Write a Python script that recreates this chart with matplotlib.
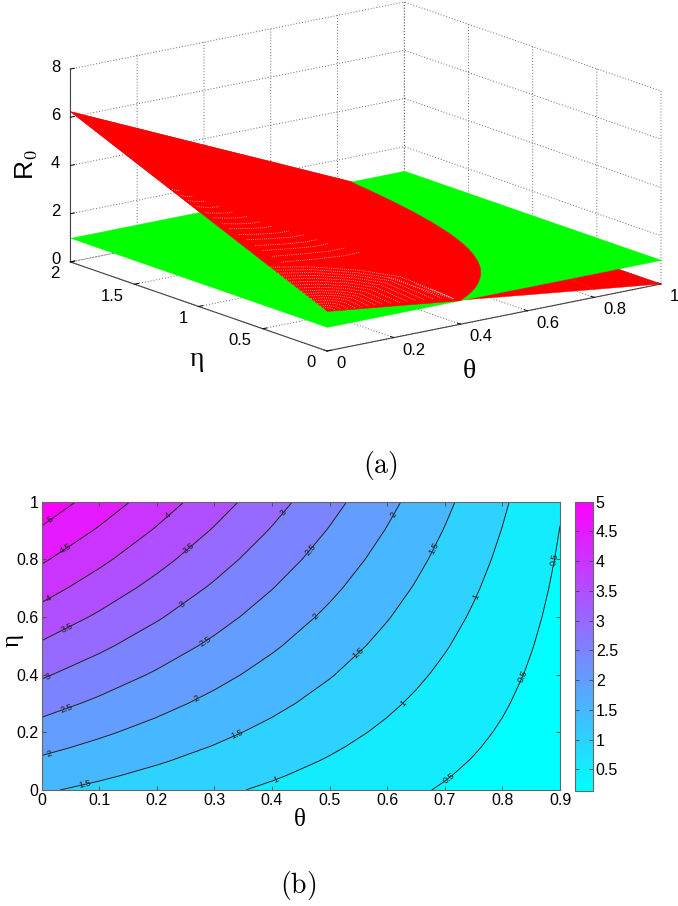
import numpy as np
import matplotlib
matplotlib.use('Agg')
import matplotlib.pyplot as plt
from mpl_toolkits.mplot3d import proj3d
from mpl_toolkits.mplot3d.art3d import Poly3DCollection

plt.rcParams['font.family'] = ['Liberation Sans', 'DejaVu Sans']
plt.rcParams['mathtext.fontset'] = 'cm'

W, H = 678, 906

# panel (a): red surface read at the corners and along the edges
theta_a = [0.0, 0.2, 0.4, 0.6, 0.8, 1.0]
eta_a = [0.0, 0.5, 1.0, 1.5, 2.0]
r0_a = [
    [1.66, 1.33, 1.00, 0.66, 0.33, 0.0],
    [2.80, 2.24, 1.68, 1.12, 0.56, 0.0],
    [3.95, 3.16, 2.37, 1.58, 0.79, 0.0],
    [5.09, 4.07, 3.05, 2.04, 1.02, 0.0],
    [6.24, 4.99, 3.74, 2.50, 1.25, 0.0],
]
plane_level = 1.0
# where the red surface crosses the green plane
cross_theta = [0.398, 0.4365, 0.471, 0.501, 0.528, 0.574, 0.612, 0.6435, 0.670, 0.6935,
               0.7136, 0.731, 0.747, 0.773, 0.7945, 0.812, 0.827, 0.84]
cross_eta = [0.0, 0.05, 0.1, 0.15, 0.2, 0.3, 0.4, 0.5, 0.6, 0.7,
             0.8, 0.9, 1.0, 1.2, 1.4, 1.6, 1.8, 2.0]

# pale dotted streaks in the red surface
streak_upper_start = [1.21, 1.15, 1.10, 1.04, 0.98, 0.93, 0.87, 0.82, 0.76, 0.71, 0.65, 0.60, 0.54, 0.48]
streak_upper_end = [0.03, 0.05, 0.07, 0.09, 0.11, 0.14, 0.16, 0.18, 0.21, 0.24, 0.26, 0.28, 0.31, 0.335]
streak_lower_start = [0.44, 0.41, 0.38, 0.35, 0.32, 0.29, 0.26, 0.23, 0.20, 0.175, 0.15, 0.125, 0.10, 0.075, 0.05, 0.03]
streak_lower_theta = [0.0, 0.12, 0.25, 0.34, 0.385]
streak_lower_frac = [1.0, 1.0, 0.9, 0.7, 0.1]
fan_rays = [((0.30, 0.30), (0.385, 0.02)), ((0.35, 0.22), (0.388, 0.02)), ((0.37, 0.15), (0.39, 0.02))]

# panel (b): contour values
theta_b = [0.0, 0.1, 0.2, 0.3, 0.4, 0.5, 0.6, 0.65, 0.7, 0.75, 0.8, 0.85, 0.9]
eta_b = [0.0, 0.05, 0.1, 0.15, 0.2, 0.25, 0.3, 0.4, 0.5, 0.6, 0.7, 0.8, 0.9, 1.0]
r0_b = [
    [1.550, 1.395, 1.240, 1.085, 0.930, 0.775, 0.620, 0.543, 0.465, 0.388, 0.310, 0.233, 0.155],
    [1.740, 1.565, 1.390, 1.217, 1.043, 0.869, 0.695, 0.608, 0.522, 0.435, 0.348, 0.261, 0.174],
    [1.927, 1.734, 1.542, 1.349, 1.156, 0.964, 0.771, 0.674, 0.578, 0.482, 0.385, 0.289, 0.193],
    [2.116, 1.904, 1.692, 1.481, 1.269, 1.058, 0.846, 0.740, 0.635, 0.529, 0.423, 0.317, 0.212],
    [2.304, 2.074, 1.843, 1.613, 1.382, 1.152, 0.922, 0.806, 0.691, 0.576, 0.461, 0.346, 0.230],
    [2.493, 2.243, 1.994, 1.745, 1.496, 1.246, 0.997, 0.872, 0.748, 0.623, 0.499, 0.374, 0.249],
    [2.681, 2.413, 2.145, 1.877, 1.609, 1.341, 1.072, 0.938, 0.804, 0.670, 0.536, 0.402, 0.268],
    [3.058, 2.752, 2.446, 2.141, 1.835, 1.529, 1.223, 1.070, 0.917, 0.765, 0.612, 0.459, 0.306],
    [3.435, 3.092, 2.748, 2.405, 2.061, 1.718, 1.374, 1.202, 1.031, 0.859, 0.687, 0.515, 0.344],
    [3.812, 3.431, 3.050, 2.668, 2.287, 1.906, 1.525, 1.334, 1.144, 0.953, 0.762, 0.572, 0.381],
    [4.189, 3.770, 3.351, 2.932, 2.513, 2.095, 1.676, 1.466, 1.257, 1.047, 0.838, 0.628, 0.419],
    [4.566, 4.109, 3.653, 3.196, 2.740, 2.283, 1.826, 1.598, 1.370, 1.142, 0.913, 0.685, 0.457],
    [4.943, 4.449, 3.954, 3.460, 2.966, 2.472, 1.977, 1.730, 1.483, 1.236, 0.989, 0.741, 0.494],
    [5.320, 4.788, 4.256, 3.724, 3.192, 2.660, 2.128, 1.862, 1.596, 1.330, 1.064, 0.798, 0.532],
]
levels_b = [0.5, 1.0, 1.5, 2.0, 2.5, 3.0, 3.5, 4.0, 4.5, 5.0]
cb_min, cb_max = 0.135, 5.0
label_spots = [
    (0.016, 0.934), (0.043, 0.835), (0.013, 0.662), (0.221, 0.948),
    (0.045, 0.557), (0.259, 0.832), (0.012, 0.393), (0.245, 0.639),
    (0.422, 0.96), (0.045, 0.277), (0.286, 0.511), (0.469, 0.829),
    (0.013, 0.124), (0.27, 0.314), (0.478, 0.598), (0.613, 0.954),
    (0.075, 0.017), (0.34, 0.193), (0.55, 0.474), (0.683, 0.835),
    (0.407, 0.038), (0.628, 0.30), (0.755, 0.668),
    (0.71, 0.035), (0.836, 0.393), (0.893, 0.798),
]
x_ticks_b = [0.0, 0.1, 0.2, 0.3, 0.4, 0.5, 0.6, 0.7, 0.8, 0.9]
x_labels_b = ['0', '0.1', '0.2', '0.3', '0.4', '0.5', '0.6', '0.7', '0.8', '0.9']
y_ticks_b = [0, 0.2, 0.4, 0.6, 0.8, 1.0]
y_labels_b = ['0', '0.2', '0.4', '0.6', '0.8', '1']
cb_ticks = [0.5, 1, 1.5, 2, 2.5, 3, 3.5, 4, 4.5, 5]
cb_labels = ['0.5', '1', '1.5', '2', '2.5', '3', '3.5', '4', '4.5', '5']


def px_axes(fig, left, top, right, bottom, **kw):
    return fig.add_axes([left / W, 1 - bottom / H, (right - left) / W, (bottom - top) / H], **kw)


def px_text(fig, x, y, s, **kw):
    return fig.text(x / W, 1 - y / H, s, **kw)


def surface_z(t, e):
    col = [np.interp(e, eta_a, [row[i] for row in r0_a]) for i in range(len(theta_a))]
    return np.interp(t, theta_a, col)


fig = plt.figure(figsize=(W / 100, H / 100), dpi=100)

# ---- (a) ----
aspect = (419.6, 424, 200)
ax = fig.add_axes([0.0, 0.5, 1.0, 0.5], projection='3d', proj_type='ortho', computed_zorder=False)
ax.set_facecolor('none')
ax.patch.set_visible(False)
ax.view_init(elev=15.3, azim=-127.25)
ax.set_box_aspect(aspect, zoom=1.0)
ax.set_xlim(0, 1)
ax.set_ylim(0, 2)
ax.set_zlim(0, 8)


def to_px(a, x, y, z):
    px, py, _ = proj3d.proj_transform(x, y, z, a.get_proj())
    q = a.transData.transform((px, py))
    return q[0], H - q[1]


# fit zoom and position so that the box corners land where they are in the picture
fig.canvas.draw()
zoom = 334.0 / (to_px(ax, 1, 0, 0)[0] - to_px(ax, 0, 0, 0)[0])
ax.set_box_aspect(aspect, zoom=zoom)
fig.canvas.draw()
p0 = to_px(ax, 0, 0, 0)
pos = ax.get_position()
ax.set_position([pos.x0 + (327 - p0[0]) / W, pos.y0 - (351 - p0[1]) / H, pos.width, pos.height])
fig.canvas.draw()

T, E = np.meshgrid(theta_a, eta_a)
red = ax.plot_surface(T, E, np.array(r0_a), color='#ff0000', shade=False, linewidth=0.3,
                      edgecolor='#ff0000', rstride=1, cstride=1, zorder=1)
green = ax.plot_surface(T[[0, -1]][:, [0, -1]], E[[0, -1]][:, [0, -1]], np.full((2, 2), plane_level),
                        color='#00ff00', shade=False, linewidth=0.3, edgecolor='#00ff00', zorder=2)

top_x = [0.0] + cross_theta + [0.0]
top_y = [0.0] + cross_eta + [2.0]
top_z = [r0_a[0][0]] + [plane_level] * len(cross_theta) + [r0_a[-1][0]]
upper = Poly3DCollection([list(zip(top_x, top_y, top_z))], facecolor='#ff0000',
                         edgecolor='#ff0000', linewidth=0.3, zorder=3)
ax.add_collection3d(upper)
for c in (red, green, upper):
    c.set_clip_on(False)

streak_style = dict(color='#ffc8c8', linewidth=0.6, linestyle=(0, (1, 1.6)), zorder=4, clip_on=False)
for e0, te in zip(streak_upper_start, streak_upper_end):
    ts = [te * 0.15, te * 0.5, te * 0.8, te]
    es = [e0 + 0.01, e0 + 0.3 * te * 0.45, e0 + 0.3 * te * 0.85, e0 + 0.4 * te]
    ax.plot(ts, es, [surface_z(a, b) for a, b in zip(ts, es)], **streak_style)
for e0 in streak_lower_start:
    # each lower streak runs from the theta = 0 edge round to the eta = 0 edge
    ts = [a * e0 / streak_lower_start[0] for a in streak_lower_theta]
    es = [e0 * f for f in streak_lower_frac]
    ax.plot(ts, es, [surface_z(a, b) for a, b in zip(ts, es)], **streak_style)
for (t0, e0), (t1, e1) in fan_rays:
    ts, es = [t0, t1], [e0, e1]
    ax.plot(ts, es, [surface_z(a, b) for a, b in zip(ts, es)], **streak_style)

ax.set_xticks(theta_a)
ax.set_yticks(eta_a)
ax.set_zticks([0, 2, 4, 6, 8])
ax.set_xticklabels([])
ax.set_yticklabels([])
ax.set_zticklabels([])
for axis in (ax.xaxis, ax.yaxis, ax.zaxis):
    axis.set_pane_color((1, 1, 1, 0))
    axis.pane.set_edgecolor('#666666')
    axis.pane.set_linestyle((0, (1, 2)))
    axis.pane.set_linewidth(0.7)
    axis.line.set_color('#444444')
    axis.line.set_linewidth(0.8)
    axis._axinfo['grid'].update(color='#666666', linestyle=(0, (1, 2)), linewidth=0.7)
    axis._axinfo['tick'].update(inward_factor=0.0, outward_factor=0.15, linewidth={True: 0.7, False: 0.7})

# tick labels sit at fixed offsets from their ticks, as in the original
for t, s in zip(theta_a, ['0', '0.2', '0.4', '0.6', '0.8', '1']):
    x, y = to_px(ax, t, 0, 0)
    px_text(fig, x + 9, y + 12.5, s, fontsize=12, ha='left', va='center')
for t, s in zip(eta_a, ['0', '0.5', '1', '1.5', '2']):
    x, y = to_px(ax, 0, t, 0)
    px_text(fig, x - 11, y + 12, s, fontsize=12, ha='right', va='center')
for t in [0, 2, 4, 6, 8]:
    x, y = to_px(ax, 0, 2, t)
    px_text(fig, x - 10, y - 2, str(t), fontsize=12, ha='right', va='center')
px_text(fig, 469, 372, 'θ', family='Liberation Serif', fontsize=20, ha='center', va='center')
px_text(fig, 197, 360, 'η', family='Liberation Serif', fontsize=20, ha='center', va='center')
px_text(fig, 26, 165, 'R$_0$', fontsize=19, rotation=90, ha='center', va='center')

# ---- (b) ----
ax2 = px_axes(fig, 41.5, 501.5, 560, 790)
cmap = plt.get_cmap('cool')
norm = plt.Normalize(cb_min, cb_max)
fills = [cb_min] + levels_b
fill_colors = [cmap(norm(v)) for v in fills]
edges = [0.0] + levels_b + [6.0]
ax2.contourf(theta_b, eta_b, r0_b, levels=edges, colors=fill_colors)
cs = ax2.contour(theta_b, eta_b, r0_b, levels=levels_b, colors='#222222', linewidths=0.7)
ax2.clabel(cs, manual=label_spots, inline=False, fontsize=6.5, fmt='%g')
ax2.set_xlim(0, 0.9)
ax2.set_ylim(0, 1)
ax2.set_xticks(x_ticks_b)
ax2.set_xticklabels(x_labels_b)
ax2.set_yticks(y_ticks_b)
ax2.set_yticklabels(y_labels_b)
ax2.tick_params(direction='in', top=True, right=True, labelsize=11.5, length=3, width=0.6,
                color='#444444', pad=2)
for s in ax2.spines.values():
    s.set_color('#666666')
    s.set_linewidth(0.8)
px_text(fig, 300, 820, 'θ', family='Liberation Serif', fontsize=18, ha='center', va='center')
px_text(fig, 13, 640, 'η', family='Liberation Serif', fontsize=18, rotation=90, ha='center', va='center')

cax = px_axes(fig, 574.5, 501.5, 593, 791)
sm = plt.cm.ScalarMappable(norm=norm, cmap=cmap)
cb = fig.colorbar(sm, cax=cax)
cb.set_ticks(cb_ticks)
cb.set_ticklabels(cb_labels)
cb.ax.tick_params(direction='in', left=True, right=True, labelsize=11.5, length=3, width=0.6,
                  color='#444444', pad=2)
cb.outline.set_edgecolor('#666666')
cb.outline.set_linewidth(0.8)

px_text(fig, 380, 466, r'$\mathrm{(a)}$', fontsize=20, ha='center', va='center')
px_text(fig, 298, 886, r'$\mathrm{(b)}$', fontsize=20, ha='center', va='center')

fig.savefig('out.png', dpi=100)
